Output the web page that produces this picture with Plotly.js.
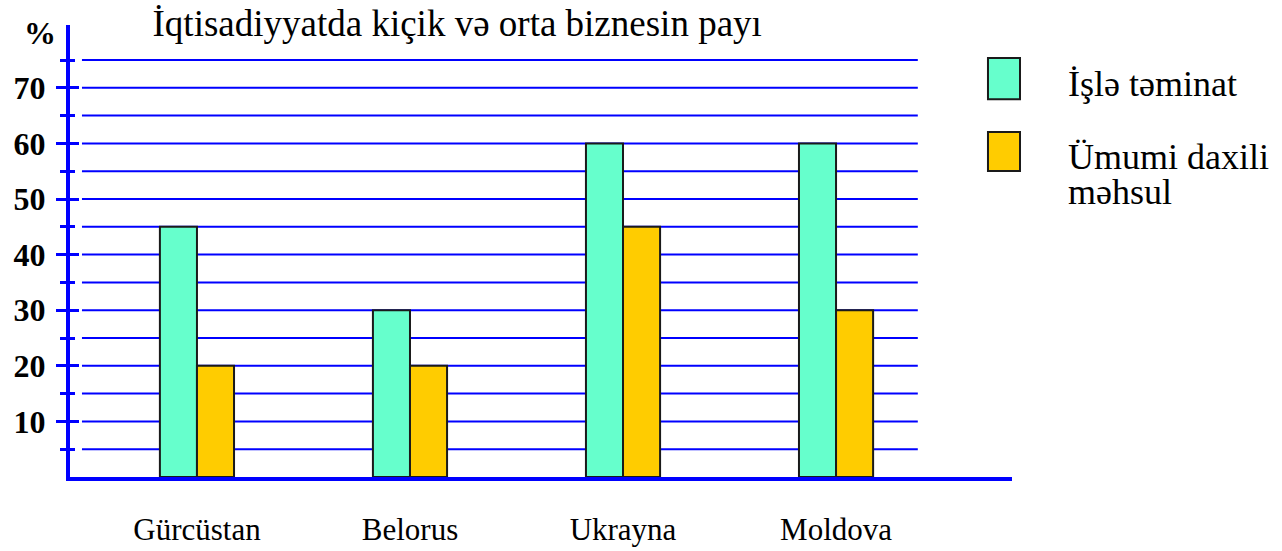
<!DOCTYPE html>
<html><head><meta charset="utf-8">
<script src="https://cdn.plot.ly/plotly-3.0.1.min.js"></script>
<style>html,body{margin:0;padding:0;background:#fff}</style>
</head><body>
<div id="chart" style="width:1282px;height:551px"></div>
<script>
const categories = ["Gürcüstan", "Belorus", "Ukrayna", "Moldova"];
const seriesNames = ["İşlə təminat", "Ümumi daxili<br>məhsul"];
const employment = [45, 30, 60, 60];
const gdp = [20, 20, 45, 30];
const majorTicks = [10, 20, 30, 40, 50, 60, 70];
const gridValues = [5, 10, 15, 20, 25, 30, 35, 40, 45, 50, 55, 60, 65, 70, 75];
const colors = ["#66ffcc", "#ffcc00"];
const titleText = "İqtisadiyyatda kiçik və orta biznesin payı";

const serif = "Liberation Serif";
const blue = "#0000ff";

const traces = [employment, gdp].map((vals, i) => ({
  type: "bar", x: categories, y: vals, name: seriesNames[i],
  marker: {color: colors[i], line: {color: "#1a1a1a", width: 2}},
  showlegend: false, hoverinfo: "skip"
}));

const shapes = gridValues.map(v => ({
  type: "line", xref: "paper", yref: "y", x0: 0.0127, x1: 0.900, y0: v, y1: v,
  line: {color: blue, width: 2}, layer: "below"
}));
const legendBoxes = [[0.927, 0.836], [0.763, 0.677]];
legendBoxes.forEach((b, i) => shapes.push({
  type: "rect", xref: "paper", yref: "paper", x0: 0.9745, x1: 1.0085, y0: b[1], y1: b[0],
  fillcolor: colors[i], line: {color: "#1a1a1a", width: 2}
}));

const legendLineY = [[0.8695], [0.708, 0.6305]];
const annotations = [];
seriesNames.forEach((name, i) => {
  name.split("<br>").forEach((part, j) => annotations.push({
    xref: "paper", yref: "paper", x: 1.0573, y: legendLineY[i][j], xanchor: "left", yanchor: "middle",
    text: part, showarrow: false, font: {family: serif, size: 36, color: "#000"}
  }));
});
annotations.push({xref: "paper", yref: "paper", x: -0.0318, y: 0.982, xanchor: "center", yanchor: "middle",
  text: "%", showarrow: false, font: {family: serif, size: 32, color: "#000", weight: "bold"}});

const yRange = [0, 81.3];
const layout = {
  width: 1282, height: 551,
  margin: {l: 70, r: 270, t: 25, b: 74},
  paper_bgcolor: "#fff", plot_bgcolor: "rgba(0,0,0,0)",
  barmode: "group", bargap: 0.652, bargroupgap: 0,
  title: {text: titleText, xref: "container", yref: "container", x: 0.119, xanchor: "left",
          y: 0.958, yanchor: "middle", font: {family: serif, size: 37, color: "#000"}},
  xaxis: {range: [-0.596, 3.826], showgrid: false, zeroline: false,
          showline: true, linecolor: blue, linewidth: 4, ticks: "",
          ticklabelstandoff: 22, tickfont: {family: serif, size: 31, color: "#000"}},
  yaxis: {range: yRange, showgrid: false, zeroline: false, showline: true, linecolor: blue, linewidth: 4,
          tickvals: majorTicks, ticks: "outside", ticklen: 10, tickwidth: 3, tickcolor: blue,
          ticklabelstandoff: 4, tickfont: {family: serif, size: 32, color: "#000", weight: "bold"},
          minor: {tickvals: gridValues, ticks: "outside", ticklen: 6, tickwidth: 3, tickcolor: blue, showgrid: false}},
  yaxis2: {range: yRange, overlaying: "y", anchor: "x", side: "left", showgrid: false, zeroline: false,
           showline: false, showticklabels: false,
           tickvals: majorTicks, ticks: "inside", ticklen: 9, tickwidth: 3, tickcolor: blue,
           minor: {tickvals: gridValues, ticks: "inside", ticklen: 5, tickwidth: 3, tickcolor: blue, showgrid: false}},
  shapes: shapes, annotations: annotations
};
traces.push({type: "scatter", x: [categories[0]], y: [0], yaxis: "y2", mode: "markers",
             marker: {opacity: 0}, showlegend: false, hoverinfo: "skip"});
Plotly.newPlot("chart", traces, layout, {displayModeBar: false, staticPlot: true});
</script>
</body></html>
